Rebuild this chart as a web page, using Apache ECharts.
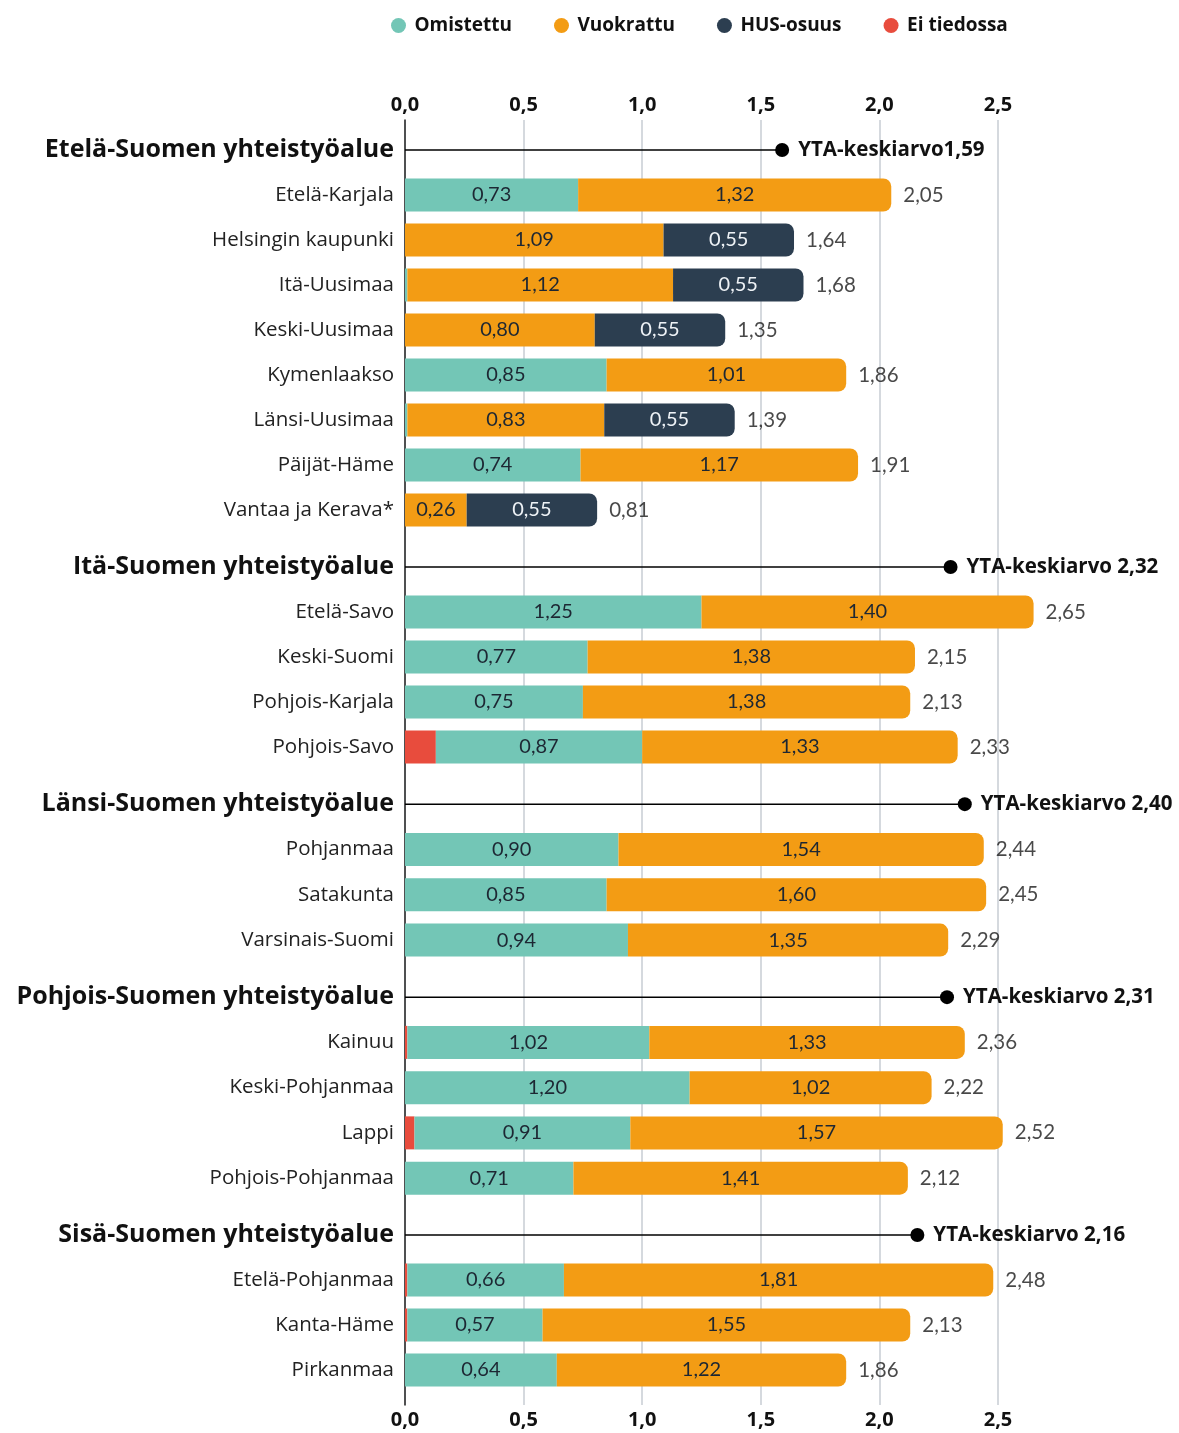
<!DOCTYPE html>
<html><head><meta charset="utf-8">
<script src="https://cdn.jsdelivr.net/npm/echarts@6/dist/echarts.min.js"></script>
<style>html,body{margin:0;padding:0;background:#fff}#c{width:1179px;height:1433px}</style>
</head><body><div id="c"></div>
<script>
const groupNames = ['Etelä-Suomen yhteistyöalue','Itä-Suomen yhteistyöalue','Länsi-Suomen yhteistyöalue','Pohjois-Suomen yhteistyöalue','Sisä-Suomen yhteistyöalue'];
const groupAvg = [1.59, 2.30, 2.36, 2.285, 2.16];
const groupAvgLabels = ['YTA-keskiarvo1,59','YTA-keskiarvo 2,32','YTA-keskiarvo 2,40','YTA-keskiarvo 2,31','YTA-keskiarvo 2,16'];

const regions1 = ['Etelä-Karjala','Helsingin kaupunki','Itä-Uusimaa','Keski-Uusimaa','Kymenlaakso','Länsi-Uusimaa','Päijät-Häme','Vantaa ja Kerava*'];
const eiTiedossa1 = [0,0,0,0,0,0,0,0];
const omistettu1 = [0.73,0,0.01,0,0.85,0.01,0.74,0];
const vuokrattu1 = [1.32,1.09,1.12,0.80,1.01,0.83,1.17,0.26];
const hus1 = [0,0.55,0.55,0.55,0,0.55,0,0.55];
const totals1 = [2.05,1.64,1.68,1.35,1.86,1.39,1.91,0.81];

const regions2 = ['Etelä-Savo','Keski-Suomi','Pohjois-Karjala','Pohjois-Savo'];
const eiTiedossa2 = [0,0,0,0.13];
const omistettu2 = [1.25,0.77,0.75,0.87];
const vuokrattu2 = [1.40,1.38,1.38,1.33];
const hus2 = [0,0,0,0];
const totals2 = [2.65,2.15,2.13,2.33];

const regions3 = ['Pohjanmaa','Satakunta','Varsinais-Suomi'];
const eiTiedossa3 = [0,0,0];
const omistettu3 = [0.90,0.85,0.94];
const vuokrattu3 = [1.54,1.60,1.35];
const hus3 = [0,0,0];
const totals3 = [2.44,2.45,2.29];

const regions4 = ['Kainuu','Keski-Pohjanmaa','Lappi','Pohjois-Pohjanmaa'];
const eiTiedossa4 = [0.01,0,0.04,0];
const omistettu4 = [1.02,1.20,0.91,0.71];
const vuokrattu4 = [1.33,1.02,1.57,1.41];
const hus4 = [0,0,0,0];
const totals4 = [2.36,2.22,2.52,2.12];

const regions5 = ['Etelä-Pohjanmaa','Kanta-Häme','Pirkanmaa'];
const eiTiedossa5 = [0.01,0.01,0];
const omistettu5 = [0.66,0.57,0.64];
const vuokrattu5 = [1.81,1.55,1.22];
const hus5 = [0,0,0];
const totals5 = [2.48,2.13,1.86];

const xTicks = ['0,0','0,5','1,0','1,5','2,0','2,5'];

const groupsData = [
  {regions: regions1, ei: eiTiedossa1, om: omistettu1, vu: vuokrattu1, hus: hus1, tot: totals1},
  {regions: regions2, ei: eiTiedossa2, om: omistettu2, vu: vuokrattu2, hus: hus2, tot: totals2},
  {regions: regions3, ei: eiTiedossa3, om: omistettu3, vu: vuokrattu3, hus: hus3, tot: totals3},
  {regions: regions4, ei: eiTiedossa4, om: omistettu4, vu: vuokrattu4, hus: hus4, tot: totals4},
  {regions: regions5, ei: eiTiedossa5, om: omistettu5, vu: vuokrattu5, hus: hus5, tot: totals5}
];

// layout (px)
const gridLeft = 405, axisWidth = 593; // 0..2.5
const bgRight = 1179 - gridLeft - axisWidth;
const groupMax = 3.0;
const groupRight = 1179 - gridLeft - axisWidth * groupMax / 2.5;
const gridTops = [127.5, 544.5, 781.5, 974.5, 1212.5];
const rowH = [45, 45, 45.3, 45.25, 45];

const FONT = 'Lato, "Open Sans", sans-serif';
const TFONT = '"Open Sans", Lato, sans-serif';
const colors = {ei:'#E84C3D', om:'#73C6B6', vu:'#F39C14', hus:'#2C3E50'};
const fmt = v => v.toFixed(2).replace('.', ',');

const grids = [{left: gridLeft, right: bgRight, top: 120, bottom: 28}];
const tickLabel = {fontFamily:TFONT, fontWeight:'bold', fontSize:20, color:'#111',
  formatter:(v)=>xTicks[Math.round(v/0.5)]};
const xAxes = [
  {gridIndex:0, type:'value', position:'top', min:0, max:2.5, interval:0.5,
   axisLine:{show:false}, axisTick:{show:false},
   axisLabel:Object.assign({margin:5}, tickLabel),
   splitLine:{show:true, lineStyle:{color:'#c7ccd3', width:1.5}}},
  {gridIndex:0, type:'value', position:'bottom', min:0, max:2.5, interval:0.5,
   axisLine:{show:false}, axisTick:{show:false},
   axisLabel:Object.assign({margin:5}, tickLabel),
   splitLine:{show:false}}
];
const yAxes = [
  {gridIndex:0, type:'value', min:0, max:1, axisLine:{show:true, onZero:false, lineStyle:{color:'#222', width:1.5}},
   axisTick:{show:false}, axisLabel:{show:false}, splitLine:{show:false}}
];
const series = [
  {type:'scatter', xAxisIndex:0, yAxisIndex:0, data:[], silent:true}
];

groupsData.forEach((g, gi) => {
  const n = g.regions.length + 1;
  grids.push({left: gridLeft, right: groupRight, top: gridTops[gi], height: rowH[gi]*n});
  const xi = xAxes.length, yi = yAxes.length;
  xAxes.push({gridIndex: gi+1, type:'value', min:0, max:groupMax, show:false});
  const cats = [groupNames[gi]].concat(g.regions);
  yAxes.push({gridIndex: gi+1, type:'category', data: cats, inverse:true,
    axisLine:{show:false}, axisTick:{show:false},
    axisLabel:{margin:11,
      formatter: v => v === groupNames[gi] ? '{h|'+v+'}' : '{n|'+v+'}',
      rich:{h:{fontFamily:TFONT, fontSize:25, fontWeight:'bold', color:'#111'},
            n:{fontFamily:TFONT, fontSize:20.5, color:'#222'}}}});

  const keys = ['ei','om','vu','hus'];
  const names = {ei:'Ei tiedossa', om:'Omistettu', vu:'Vuokrattu', hus:'HUS-osuus'};
  const lastKey = g.regions.map((r, i) => {
    let lk = null; keys.forEach(k => { if (g[k][i] > 0) lk = k; }); return lk;
  });
  keys.forEach(k => {
    const data = ['-'].concat(g[k].map((v, i) => {
      if (!(v > 0)) return '-';
      return {value: v, itemStyle: {borderRadius: lastKey[i] === k ? [0,8,8,0] : 0}};
    }));
    series.push({
      type:'bar', name: names[k], stack:'s'+gi, xAxisIndex: xi, yAxisIndex: yi,
      barWidth: 33, data: data, itemStyle:{color: colors[k]},
      label:{show:true, position:'inside', fontFamily:FONT, fontSize:20,
        color: k === 'hus' ? '#eef2f6' : '#1d2733',
        formatter: p => (p.value >= 0.2 ? fmt(p.value) : '')},
      emphasis:{disabled:true}
    });
  });
  series.push({
    type:'scatter', xAxisIndex: xi, yAxisIndex: yi, symbolSize: 0, silent:true,
    data: g.tot.map((t, i) => [t, g.regions[i]]),
    label:{show:true, position:'right', distance:12, fontFamily:FONT, fontSize:20.5, color:'#1a1a1a',
      formatter: p => fmt(p.value[0])}
  });
  series.push({
    type:'line', xAxisIndex: xi, yAxisIndex: yi, silent:true,
    lineStyle:{color:'#000', width:1.5}, itemStyle:{color:'#000'},
    symbol:'circle',
    data:[{value:[0, groupNames[gi]], symbolSize:0},
          {value:[groupAvg[gi], groupNames[gi]], symbolSize:14,
           label:{show:true, position:'right', distance:9, fontFamily:TFONT, fontSize:20.5,
             fontWeight:'bold', color:'#111', formatter: groupAvgLabels[gi]}}],
    label:{show:false}
  });
});

const chart = echarts.init(document.getElementById('c'), null, {renderer:'canvas'});
chart.setOption({
  animation:false,
  backgroundColor:'#fff',
  legend:{top:11, left:386, itemGap:42, itemWidth:22, itemHeight:15, icon:'circle',
    data:['Omistettu','Vuokrattu','HUS-osuus','Ei tiedossa'],
    textStyle:{fontFamily:TFONT, fontSize:19, fontWeight:'bold', color:'#111'}},
  grid: grids, xAxis: xAxes, yAxis: yAxes, series: series
});
</script></body></html>
